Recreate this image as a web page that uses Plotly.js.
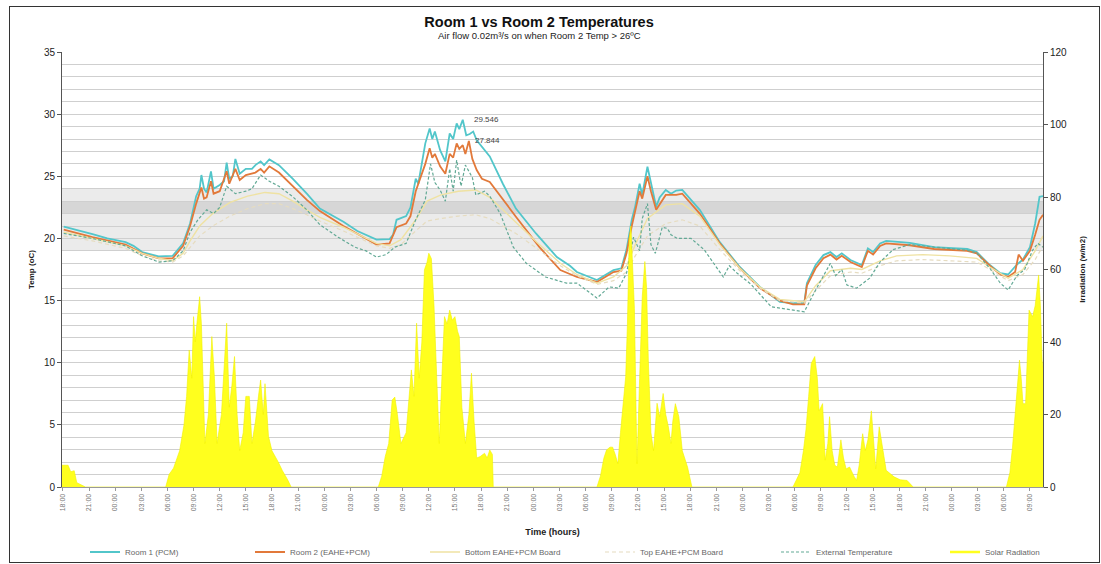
<!DOCTYPE html>
<html><head><meta charset="utf-8">
<script src="https://cdn.plot.ly/plotly-3.0.1.min.js"></script>
<style>
html,body{margin:0;padding:0;background:#fff;}
#chart{position:absolute;left:0;top:0;width:1101px;height:564px;}
#frame{position:absolute;left:9px;top:6px;width:1091px;height:557px;border:1px solid #333;box-sizing:border-box;pointer-events:none;}
</style></head><body>
<div id="chart"></div><div id="frame"></div>
<script>
// time axis: hours since the first 18:00 tick, one tick every 3 hours
const xTickLabels = ['18:00','21:00','00:00','03:00','06:00','09:00','12:00','15:00',
  '18:00','21:00','00:00','03:00','06:00','09:00','12:00','15:00',
  '18:00','21:00','00:00','03:00','06:00','09:00','12:00','15:00',
  '18:00','21:00','00:00','03:00','06:00','09:00','12:00','15:00',
  '18:00','21:00','00:00','03:00','06:00','09:00'];
const tickStepHours = 3;

const seriesNames = ['Room 1 (PCM)','Room 2 (EAHE+PCM)','Bottom EAHE+PCM Board','Top EAHE+PCM Board','External Temperature','Solar Radiation'];

const room1Hours = [0.1,1.6,3.4,5.1,7.2,8.1,9.1,11.0,12.6,13.8,14.6,15.3,15.7,15.9,16.2,16.5,17.0,17.3,18.0,18.5,18.8,19.1,19.5,19.8,20.3,21.0,21.7,22.1,22.7,23.1,23.7,24.8,26.4,28.0,29.5,32.2,33.8,36.0,37.5,37.9,38.3,39.4,39.9,40.5,40.8,41.6,42.1,42.4,42.7,43.3,43.9,44.4,44.8,45.2,45.5,45.9,46.3,46.7,47.1,47.5,49.0,50.5,52.0,54.3,56.7,58.2,59.0,61.3,62.5,63.2,64.1,64.7,65.3,65.7,66.2,66.5,67.1,67.5,68.1,68.5,69.2,69.8,70.4,71.1,73.1,75.4,77.7,80.0,82.3,83.8,85.1,85.4,86.4,87.3,88.1,88.8,89.4,90.4,91.7,92.4,93.0,93.8,94.5,97.2,100.0,103.8,104.9,106.4,107.6,108.5,109.5,110.2,111.0,111.6,112.1,112.5];
const room1Temp = [20.95,20.7,20.35,20.0,19.7,19.4,18.9,18.55,18.6,19.6,21.2,23.4,24.0,25.1,24.0,23.7,25.4,24.0,24.3,24.6,26.1,24.8,25.0,26.4,25.2,25.6,25.6,25.9,26.2,25.9,26.35,25.9,24.8,23.6,22.4,21.35,20.6,19.9,19.95,20.3,21.5,21.8,22.5,24.8,24.4,27.65,28.85,28.0,28.6,27.1,26.2,28.45,28.0,29.26,28.8,29.546,28.3,28.4,28.6,27.9,26.6,24.4,22.4,20.4,18.5,17.8,17.3,16.65,17.2,17.45,17.6,19.1,21.5,22.6,24.4,23.5,25.77,24.4,22.55,23.3,23.9,23.6,23.85,23.9,22.3,19.7,17.7,16.1,14.9,14.8,14.8,16.4,17.86,18.66,18.9,18.5,18.8,18.26,17.86,19.2,18.9,19.6,19.8,19.65,19.3,19.15,18.9,17.86,17.2,17.1,17.9,18.3,19.3,21.2,23.35,23.4];

const room2Hours = [0.1,3.4,7.2,9.1,11.0,12.6,13.8,14.6,15.3,15.9,16.2,16.5,17.0,17.3,18.0,18.8,19.1,19.8,20.3,21.0,22.1,22.7,23.1,23.7,24.8,26.4,28.0,29.5,32.2,36.0,37.5,38.3,39.4,39.9,40.5,41.6,42.1,42.4,42.7,43.3,43.9,44.4,44.8,45.2,45.5,45.9,46.2,46.6,47.0,47.5,48.1,49.0,50.0,52.0,54.7,57.1,59.0,61.3,63.2,64.1,64.7,65.3,66.2,66.5,67.1,67.5,68.1,69.2,70.4,71.1,73.1,75.4,77.7,80.0,82.3,83.8,85.1,85.4,86.4,87.3,88.1,88.8,89.4,90.4,91.7,92.4,93.0,93.8,94.5,97.2,100.0,103.8,104.9,106.4,107.6,108.5,109.3,109.7,110.2,111.0,111.6,112.1,112.5];
const room2Temp = [20.7,20.1,19.5,18.8,18.4,18.4,19.4,21.0,22.8,24.1,23.2,23.3,24.6,23.6,23.8,25.4,24.4,25.6,24.7,25.1,25.3,25.6,25.3,25.8,25.3,24.2,23.1,22.2,21.0,19.5,19.6,20.9,21.2,21.8,23.8,26.0,27.25,26.5,26.8,25.8,25.2,26.8,26.5,27.65,27.2,27.5,26.8,27.844,26.4,25.5,24.8,24.55,23.6,21.75,19.3,17.45,16.9,16.5,17.3,17.4,18.8,21.0,23.8,23.2,25.0,23.8,22.3,23.5,23.5,23.6,22.0,19.6,17.6,16.0,15.0,14.7,14.7,16.2,17.6,18.4,18.7,18.3,18.6,18.1,17.7,19.0,18.7,19.4,19.6,19.45,19.15,19.0,18.8,17.8,17.1,16.9,17.3,18.7,18.2,19.0,20.3,21.5,21.9];

const boardHours = [0.1,3.4,7.2,9.1,11.0,12.6,13.8,14.6,15.7,17.2,19.2,21.2,23.2,24.8,26.4,28.0,29.5,32.2,36.0,37.5,38.8,40.5,41.8,43.4,45.4,47.4,49.0,50.5,52.0,54.4,57.1,59.0,61.3,63.2,64.7,65.7,67.1,69.2,71.1,73.1,75.4,77.7,80.0,82.3,85.1,86.4,88.1,90.4,91.7,93.8,95.7,98.7,101.8,104.9,106.4,108.5,110.2,111.6,112.5];
const bottomBoardTemp = [20.5,20.0,19.4,18.8,18.4,18.2,18.8,19.8,21.0,22.0,22.9,23.4,23.7,23.6,23.0,22.3,21.7,20.9,19.6,19.4,19.9,21.5,23.0,23.5,23.8,23.9,23.3,22.3,21.3,19.7,18.0,17.1,16.4,16.9,17.8,19.5,21.6,22.7,22.8,21.8,19.5,17.6,16.1,15.1,14.9,16.2,17.4,17.6,17.5,18.2,18.6,18.7,18.6,18.4,17.7,16.8,17.5,19.0,20.2];
const topBoardTemp = [20.2,19.8,19.2,18.6,18.2,18.1,18.6,19.3,20.2,21.0,21.8,22.4,22.8,22.8,22.4,21.9,21.4,20.6,19.4,19.2,19.5,20.6,21.4,21.6,21.8,21.9,21.6,21.0,20.4,19.2,17.8,17.0,16.3,16.6,17.3,18.6,20.2,21.2,21.5,21.0,19.1,17.4,16.0,15.0,14.8,15.8,17.0,17.3,17.2,17.8,18.2,18.3,18.2,18.1,17.5,16.6,17.1,18.3,19.4];

const extHours = [0.1,3.4,7.2,9.1,11.0,12.6,13.8,14.6,15.5,16.5,17.3,18.0,18.8,19.8,21.0,21.7,22.7,23.7,24.8,26.4,28.0,29.5,31.6,33.5,34.8,36.0,37.1,38.1,39.4,40.5,41.6,42.2,42.7,43.3,43.9,44.4,44.8,45.2,45.7,46.2,47.0,47.4,48.4,49.0,50.2,51.7,53.2,55.4,57.8,59.0,61.3,62.7,63.8,64.7,65.5,66.2,66.5,67.1,67.5,68.0,68.8,69.4,69.8,70.5,72.1,73.6,75.8,76.5,77.4,79.0,81.3,83.8,85.1,86.4,87.3,88.1,88.7,89.4,90.0,91.1,92.6,93.8,95.3,97.2,100.0,103.8,104.9,106.4,107.6,108.5,109.5,110.4,111.3,111.9,112.5];
const extTemp = [20.4,20.0,19.4,18.6,18.1,18.2,19.0,20.5,21.5,22.3,22.0,22.5,24.2,23.6,23.8,24.0,25.1,24.6,24.2,23.35,22.3,21.1,20.1,19.3,19.0,18.5,18.7,19.3,19.6,21.5,23.1,26.0,24.5,23.9,23.0,25.6,23.8,26.3,24.2,25.9,24.9,23.5,23.8,23.4,22.0,19.3,18.0,16.9,16.4,16.4,15.2,16.1,16.0,17.2,20.1,19.0,21.6,22.8,19.5,18.8,20.9,20.8,20.3,20.0,20.0,19.1,16.9,17.8,17.2,16.3,14.5,14.2,14.1,15.85,17.0,18.0,17.0,17.5,16.25,16.0,16.8,18.1,19.1,19.5,19.3,19.05,18.8,17.6,16.4,15.85,17.0,17.5,19.05,19.6,19.3];

const solarHours = [-0.1,0.6,0.9,1.3,1.6,2.1,2.6,
  11.8,12.2,12.7,13.4,13.9,14.2,14.5,14.8,15.0,15.2,15.4,15.7,15.9,16.1,16.3,16.7,17.1,17.4,17.7,18.2,18.5,18.8,19.1,19.4,19.7,20.0,20.3,20.7,21.0,21.4,21.7,22.1,22.5,22.7,23.0,23.2,23.6,24.0,24.7,25.2,25.8,26.2,
  36.2,36.6,37.0,37.4,37.8,38.1,38.4,38.8,39.4,39.7,40.0,40.3,40.6,40.9,41.2,41.5,41.8,42.0,42.3,42.6,42.9,43.2,43.5,43.8,44.1,44.4,44.7,45.0,45.3,45.5,45.8,46.2,46.6,46.9,47.2,47.5,47.9,48.4,48.7,49.0,49.3,49.4,
  61.3,61.7,62.1,62.4,62.8,63.1,63.4,63.7,64.0,64.3,64.6,64.8,65.0,65.2,65.4,65.6,65.8,65.9,66.2,66.5,66.8,67.0,67.2,67.5,67.8,68.2,68.5,68.9,69.2,69.5,69.8,70.0,70.3,70.7,71.1,71.7,72.2,
  83.8,84.2,84.6,85.0,85.3,85.6,85.9,86.3,86.6,86.8,87.2,87.5,87.8,88.0,88.3,88.6,88.9,89.3,89.6,89.9,90.3,90.8,91.1,91.4,91.8,92.1,92.4,92.8,93.1,93.3,93.7,94.1,94.5,95.4,96.1,96.9,97.6,
  108.3,108.7,109.0,109.4,109.8,110.0,110.2,110.5,110.8,110.9,111.3,111.6,112.0,112.2,112.4,112.5];
const solarRad = [6,6,4.2,4.5,1.2,0.5,0,
  0,3.5,5.2,10,17.1,25,37.8,30,47,40,45.5,52.5,45,30,12,20,41.5,30,12,20,32,45.2,22,28,36,20,10,15,25,25,12,18,26,29.5,20,28.5,14,10,7,4.5,2,0,
  0,3,8.4,12,24,24.8,20,12,15,25,32.3,25,45.2,30,40,59.9,62,64.5,63,50,30,12,30,47,45,48.8,46,47,43,41.5,22,12,20,31.4,18,8,8.4,9.3,8,10.2,9,0,
  0,3,8,10.2,11,11,9,6.4,15,23.1,30.4,45,68,72,62,49.3,20,6.4,30,52.5,62.2,55,35,15,10,23.1,19.4,25.8,20,16.6,12,18,23,19.4,10,5.5,0,
  0,2,4,10,16,25,34.1,36,30,21,23,7.4,12,19.4,10,6,5.5,13,8,5,5.5,3,1.8,6,14.7,10,13,21,12,5,16.6,11,4.6,2.8,2,1.8,0,
  0,4,11,22,35,30,23,23,40,48.8,47,50,58.5,50,35,33];

const comfortBand = [19, 24];
const setPointBand = [22, 23];

const xTickVals = xTickLabels.map((_, i) => i * tickStepHours);
const font = '"Liberation Sans", Arial, sans-serif';

function peakOf(h, v) { let k = 0; v.forEach((x, i) => { if (x > v[k]) k = i; }); return {x: h[k], y: v[k]}; }
const p1 = peakOf(room1Hours, room1Temp), p2 = peakOf(room2Hours, room2Temp);

const solarColor = '#FFFF1E';
const traces = [
  {x: room1Hours, y: room1Temp, name: seriesNames[0], legend: 'legend', mode: 'lines', line: {color: '#52C6CA', width: 1.8}},
  {x: room2Hours, y: room2Temp, name: seriesNames[1], legend: 'legend2', mode: 'lines', line: {color: '#E2793A', width: 1.8}},
  {x: boardHours, y: bottomBoardTemp, name: seriesNames[2], legend: 'legend3', mode: 'lines', line: {color: '#EFE2A2', width: 1.4}},
  {x: boardHours, y: topBoardTemp, name: seriesNames[3], legend: 'legend4', mode: 'lines', line: {color: '#E6DCC0', width: 1.2, dash: '4px,3px'}},
  {x: extHours, y: extTemp, name: seriesNames[4], legend: 'legend5', mode: 'lines', line: {color: '#62A995', width: 1.2, dash: '3px,2px'}},
  {x: solarHours, y: solarRad, name: seriesNames[5], showlegend: false, mode: 'lines', yaxis: 'y2', fill: 'tozeroy', fillcolor: solarColor, line: {color: '#F2F200', width: 0.6}},
  // legend key only (a plain yellow line, as in the reference)
  {x: [null], y: [null], name: seriesNames[5], legend: 'legend6', mode: 'lines', yaxis: 'y2', line: {color: solarColor, width: 2.5}}
];

const legendLeft = [85, 250, 425, 600, 776, 945];
function legendAt(px) {
  return {orientation: 'h', xref: 'container', yref: 'container', x: px / 1101, xanchor: 'left', y: 1 - 552 / 564, yanchor: 'middle',
    font: {size: 8, color: '#666', family: font}, bgcolor: 'rgba(0,0,0,0)', itemwidth: 30};
}

const layout = {
  width: 1101, height: 564,
  margin: {l: 62, r: 58, t: 52, b: 77, pad: 0, autoexpand: false},
  paper_bgcolor: '#fff', plot_bgcolor: '#fff',
  font: {family: font, color: '#222'},
  showlegend: true,
  title: {text: '<b>Room 1 vs Room 2 Temperatures</b>', xref: 'container', x: 0.4896, xanchor: 'center',
    yref: 'container', y: 1 - 22 / 564, yanchor: 'middle', font: {size: 14.5, color: '#111', family: font}},
  xaxis: {range: [-0.1, 112.5], tickmode: 'array', tickvals: xTickVals, ticktext: xTickLabels, tickangle: -90,
    tickfont: {size: 7, color: '#777'}, ticks: 'outside', ticklen: 3, tickcolor: '#999',
    showgrid: false, zeroline: false, showline: true, linecolor: '#999', linewidth: 1,
    title: {text: '<b>Time (hours)</b>', font: {size: 9, color: '#222'}, standoff: 18}},
  yaxis: {range: [0, 35], tick0: 0, dtick: 5, showgrid: true, gridcolor: '#cfcfcf', gridwidth: 1,
    minor: {dtick: 1, showgrid: true, gridcolor: '#cfcfcf', gridwidth: 1},
    ticks: 'outside', ticklen: 4, tickcolor: '#555', showline: true, linecolor: '#555', linewidth: 1, zeroline: false,
    tickfont: {size: 10, color: '#222'}, title: {text: '<b>Temp (oC)</b>', font: {size: 8, color: '#222'}, standoff: 8}},
  yaxis2: {range: [0, 120], tick0: 0, dtick: 20, overlaying: 'y', side: 'right', showgrid: false, zeroline: false,
    ticks: 'outside', ticklen: 4, tickcolor: '#555', showline: true, linecolor: '#555', linewidth: 1,
    tickfont: {size: 10, color: '#222'}, title: {text: '<b>Irradiation (w/m2)</b>', font: {size: 8, color: '#222'}, standoff: 13}},
  legend: legendAt(legendLeft[0]), legend2: legendAt(legendLeft[1]), legend3: legendAt(legendLeft[2]),
  legend4: legendAt(legendLeft[3]), legend5: legendAt(legendLeft[4]), legend6: legendAt(legendLeft[5]),
  shapes: [
    {type: 'rect', xref: 'paper', yref: 'y', x0: 0, x1: 1, y0: comfortBand[0], y1: comfortBand[1], fillcolor: '#ebebeb', line: {width: 0}, layer: 'below'},
    {type: 'rect', xref: 'paper', yref: 'y', x0: 0, x1: 1, y0: setPointBand[0], y1: setPointBand[1], fillcolor: '#d6d6d6', line: {width: 0}, layer: 'below'}
  ],
  annotations: [
    {xref: 'paper', yref: 'paper', x: 0.487, y: (487 - 35) / 435, text: 'Air flow 0.02m³/s on when Room 2 Temp > 26ºC',
      showarrow: false, xanchor: 'center', yanchor: 'middle', font: {size: 9.5, color: '#222'}},
    {x: p1.x, y: p1.y, xref: 'x', yref: 'y', text: p1.y.toFixed(3), showarrow: false, xanchor: 'left', xshift: 9, font: {size: 8, color: '#444'}},
    {x: p2.x, y: p2.y, xref: 'x', yref: 'y', text: p2.y.toFixed(3), showarrow: false, xanchor: 'left', xshift: 4, font: {size: 8, color: '#444'}}
  ]
};

Plotly.newPlot('chart', traces, layout, {displayModeBar: false, staticPlot: true});
</script></body></html>
